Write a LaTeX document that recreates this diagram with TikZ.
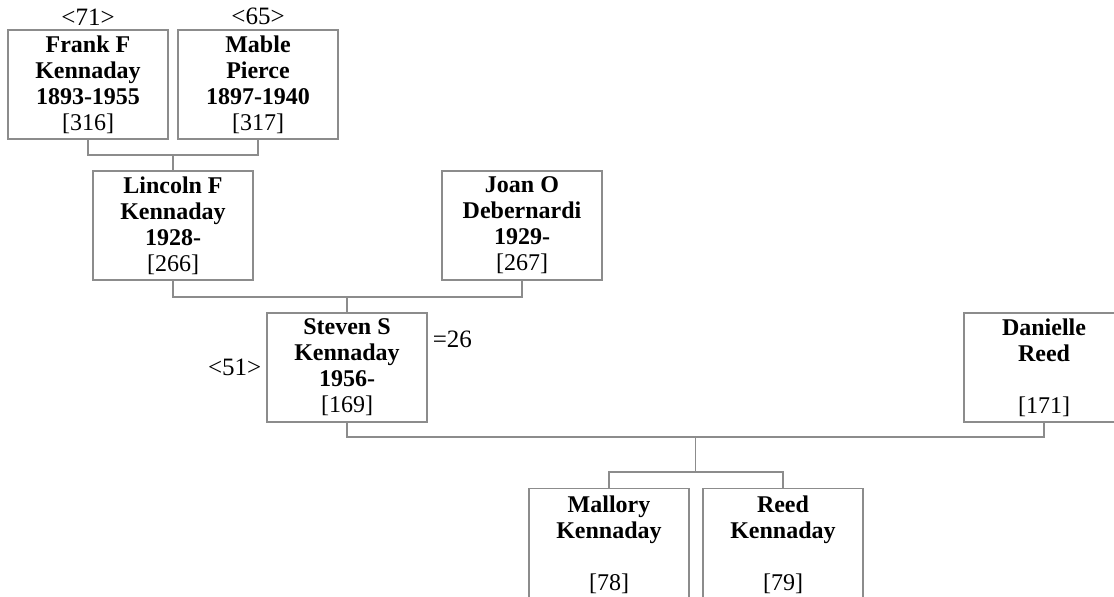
\documentclass[tikz,border=0pt]{standalone}
\usepackage{fontspec}
\setmainfont{Liberation Serif}
\usetikzlibrary{positioning}

\tikzset{
  person/.style={draw=gray!90, line width=1.2pt, minimum width=160pt,
    minimum height=109pt, inner sep=0pt, align=center,
    font=\fontsize{24}{26}\selectfont},
  child/.style={person, minimum height=112pt, anchor=north},
  tag/.style={inner sep=0pt, font=\fontsize{25}{27}\selectfont},
  link/.style={draw=gray!90, line width=1.2pt},
}

\begin{document}
\begin{tikzpicture}[x=1pt,y=-1pt]
  \useasboundingbox (0,0) rectangle (1114,597);

  % grandparents
  \node[person] (frank) at (88,84.5) {\textbf{Frank F}\\\textbf{Kennaday}\\\textbf{1893-1955}\\{[316]}};
  \node[person] (mable) at (258,84.5) {\textbf{Mable}\\\textbf{Pierce}\\\textbf{1897-1940}\\{[317]}};
  \node[tag, above=4pt of frank] (t71) {<71>};
  \node[tag, above=4pt of mable] (t65) {<65>};

  % parents
  \node[person] (lincoln) at (173,225.5) {\textbf{Lincoln F}\\\textbf{Kennaday}\\\textbf{1928-}\\{[266]}};
  \node[person] (joan) at (522,225.5) {\textbf{Joan O}\\\textbf{Debernardi}\\\textbf{1929-}\\{[267]}};

  % couple
  \node[person] (steven) at (347,367.5) {\textbf{Steven S}\\\textbf{Kennaday}\\\textbf{1956-}\\{[169]}};
  \node[person] (danielle) at (1044,367.5) {\textbf{Danielle}\\\textbf{Reed}\\~\\{[171]}};
  \node[tag, left=5pt of steven] (t51) {<51>};
  \node[tag, anchor=north west] (m26) at ([xshift=5pt,yshift=-18pt]steven.north east) {=26};

  % children
  \node[child] (mallory) at (609,488) {\textbf{Mallory}\\\textbf{Kennaday}\\~\\{[78]}};
  \node[child] (reed) at (783,488) {\textbf{Reed}\\\textbf{Kennaday}\\~\\{[79]}};

  % junctions
  \coordinate (j1) at (173,155);
  \coordinate (j2) at (347,297);
  \coordinate (j3) at (695.5,437);
  \coordinate (j4) at (695.5,472);

  \draw[link] (frank.south) |- (j1) -| (mable.south);
  \draw[link] (j1) -- (lincoln.north);
  \draw[link] (lincoln.south) |- (j2) -| (joan.south);
  \draw[link] (j2) -- (steven.north);
  \draw[link] (steven.south) |- (j3) -| (danielle.south);
  \draw[link] (j3) -- (j4);
  \draw[link] (mallory.north) |- (j4) -| (reed.north);
\end{tikzpicture}
\end{document}
